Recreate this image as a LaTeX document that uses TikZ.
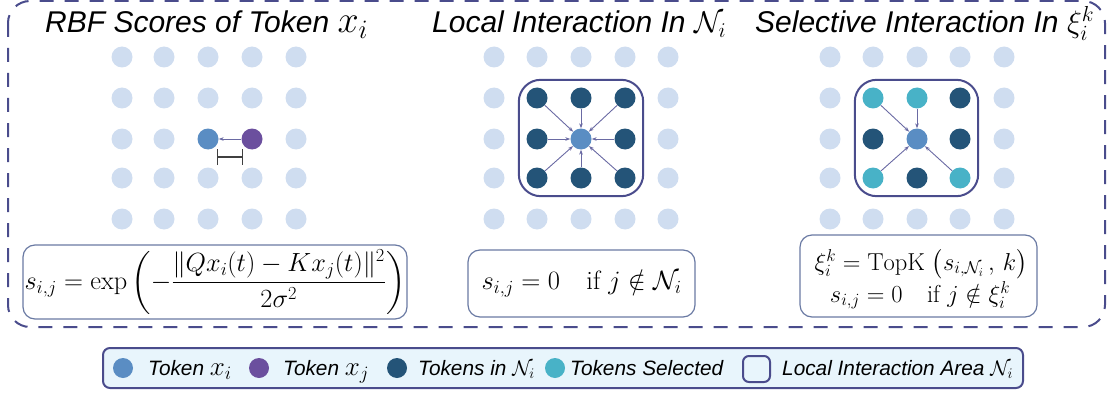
\RequirePackage{fix-cm}
\documentclass[tikz,border=0pt]{standalone}
\usepackage{amsmath,amssymb}
\usepackage{fontspec}
\setsansfont{Liberation Sans}
\usetikzlibrary{arrows.meta,fit}
\definecolor{dotlight}{HTML}{CFDDF0}
\definecolor{tokI}{HTML}{5A8DC3}
\definecolor{tokJ}{HTML}{6B4F9E}
\definecolor{tokN}{HTML}{245478}
\definecolor{tokS}{HTML}{48B2C7}
\definecolor{frameC}{HTML}{4A4C8C}
\definecolor{fboxC}{HTML}{6A7AA3}
\definecolor{arrC}{HTML}{6A6AA3}
\definecolor{legfill}{HTML}{E8F5FC}
\newcommand{\bigmath}[2]{{\fontsize{#1}{#1}\selectfont$#2$}}
\begin{document}
\begin{tikzpicture}[x=1pt,y=-1pt,
  dotbase/.style={circle,inner sep=0pt,minimum size=21pt},
  bgdot/.style={dotbase,fill=dotlight},
  tokii/.style={dotbase,fill=tokI},
  tokjj/.style={dotbase,fill=tokJ},
  toknn/.style={dotbase,fill=tokN},
  tokss/.style={dotbase,fill=tokS},
  flow/.style={draw=arrC,line width=0.9pt,-{Stealth[length=5pt,width=3.6pt]}},
  areabox/.style={draw=frameC,line width=2pt,rounded corners=22pt,inner sep=7.5pt},
  titletext/.style={font=\fontsize{30}{34}\selectfont\sffamily\itshape,inner sep=0pt},
  formbox/.style={draw=fboxC,line width=1.2pt,rounded corners=12pt,align=center,inner sep=0pt},
  formtext/.style={inner sep=0pt,font=\fontsize{24.5}{28}\selectfont},
  legtext/.style={font=\fontsize{20.8}{24}\selectfont\sffamily\itshape,inner sep=0pt},
]
\useasboundingbox (0,0) rectangle (1107,393);

% outer dashed frame
\draw[draw=frameC,line width=2pt,dash pattern=on 14pt off 11pt,rounded corners=22pt] (8,1) rectangle (1105,327);

% titles
\node[titletext,anchor=base west] (t1) at (45,33) {RBF Scores of Token \bigmath{38}{x_i}};
\node[titletext,anchor=base west] (t2) at (432,33) {Local Interaction In \bigmath{30}{\mathcal{N}_i}};
\node[titletext,anchor=base west] (t3) at (755,33) {Selective Interaction In \bigmath{31}{\xi_i^k}};

% ---------- panel 1 ----------
\foreach \c/\x in {1/122,2/164,3/208,4/252,5/296}{
  \foreach \r/\y in {1/57,2/98,3/139,4/178,5/219}{
    \pgfmathtruncatemacro\skipit{(\r==3)&&((\c==3)||(\c==4))}
    \ifnum\skipit=0 \node[bgdot] (a-\c-\r) at (\x,\y) {};\fi
  }
}
\node[tokii] (ti) at (208,139) {};
\node[tokjj] (tj) at (252,139) {};
\draw[flow] (tj) -- (ti);
\coordinate (dA) at (217,157);
\coordinate (dB) at (243,157);
\draw[draw=black!75,line width=1.2pt,{Bar[width=16pt]}-{Bar[width=16pt]}] (dA) -- (dB);

% ---------- panel 2 ----------
\foreach \c/\x in {1/494,2/537,3/581,4/625,5/668}{
  \foreach \r/\y in {1/57,2/98,3/139,4/178,5/219}{
    \pgfmathtruncatemacro\edgeit{(\c==1)||(\c==5)||(\r==1)||(\r==5)}
    \ifnum\edgeit=1 \node[bgdot] (b-\c-\r) at (\x,\y) {};\fi
  }
}
\node[tokii] (bc) at (581,139) {};
\foreach \c/\x in {2/537,3/581,4/625}{
  \foreach \r/\y in {2/98,3/139,4/178}{
    \pgfmathtruncatemacro\midit{(\c==3)&&(\r==3)}
    \ifnum\midit=0
      \node[toknn] (b-\c-\r) at (\x,\y) {};
      \draw[flow] (b-\c-\r) -- (bc);
    \fi
  }
}
\node[areabox,fit=(b-2-2)(b-4-4)] (areaB) {};

% ---------- panel 3 ----------
\foreach \c/\x in {1/830,2/873,3/917,4/960,5/1004}{
  \foreach \r/\y in {1/57,2/98,3/139,4/178,5/219}{
    \pgfmathtruncatemacro\edgeit{(\c==1)||(\c==5)||(\r==1)||(\r==5)}
    \ifnum\edgeit=1 \node[bgdot] (c-\c-\r) at (\x,\y) {};\fi
  }
}
\node[tokii] (cc) at (917,139) {};
\node[tokss] (c-2-2) at (873,98) {};
\node[tokss] (c-3-2) at (917,98) {};
\node[toknn] (c-4-2) at (960,98) {};
\node[toknn] (c-2-3) at (873,139) {};
\node[toknn] (c-4-3) at (960,139) {};
\node[tokss] (c-2-4) at (873,178) {};
\node[toknn] (c-3-4) at (917,178) {};
\node[tokss] (c-4-4) at (960,178) {};
\foreach \n in {c-2-2,c-3-2,c-2-4,c-4-4}{ \draw[flow] (\n) -- (cc); }
\node[areabox,fit=(c-2-2)(c-4-4)] (areaC) {};

% ---------- formula boxes ----------
\node[formbox,minimum width=384pt,minimum height=74pt,font=\fontsize{26.3}{30}\selectfont] (f1) at (215,282)
  {$s_{i,j} = \exp\left(-\dfrac{\|Qx_i(t) - Kx_j(t)\|^2}{2\sigma^2}\right)$};
\node[formbox,minimum width=227pt,minimum height=67pt,font=\fontsize{26.5}{30}\selectfont] (f2) at (581.5,283.5)
  {$s_{i,j} = 0 \quad \text{if } j \notin \mathcal{N}_i$};
\node[formbox,minimum width=237pt,minimum height=82pt] (f3) at (918.5,276) {};
\node[formtext,anchor=base] (f3a) at (921,270)
  {$\xi_i^k = \mathrm{TopK}\;\bigl(s_{i,\mathcal{N}_i}\,,\, k\bigr)$};
\node[formtext,anchor=base] (f3b) at (920,302)
  {$s_{i,j} = 0 \quad \text{if } j \notin \xi_i^k$};

% ---------- legend ----------
\node[draw=frameC,fill=legfill,line width=2pt,rounded corners=7pt,minimum width=920pt,minimum height=40pt] (leg) at (563,368) {};
\node[tokii,minimum size=20pt] (l1) at (123,368) {};
\node[legtext,anchor=base west] (lt1) at (148,375) {Token \bigmath{27}{x_i}};
\node[tokjj,minimum size=20pt] (l2) at (259,368) {};
\node[legtext,anchor=base west] (lt2) at (283,375) {Token \bigmath{27}{x_j}};
\node[toknn,minimum size=20pt] (l3) at (397,368) {};
\node[legtext,anchor=base west] (lt3) at (418,375) {Tokens in \bigmath{21}{\mathcal{N}_i}};
\node[tokss,minimum size=20pt] (l4) at (555,368) {};
\node[legtext,anchor=base west] (lt4) at (570,375) {Tokens Selected};
\node[draw=frameC,fill=legfill,line width=2pt,rounded corners=6pt,minimum width=27pt,minimum height=26pt,inner sep=0pt] (l5) at (756.5,369) {};
\node[legtext,anchor=base west] (lt5) at (782,375) {Local Interaction Area \bigmath{21}{\mathcal{N}_i}};
\end{tikzpicture}
\end{document}
